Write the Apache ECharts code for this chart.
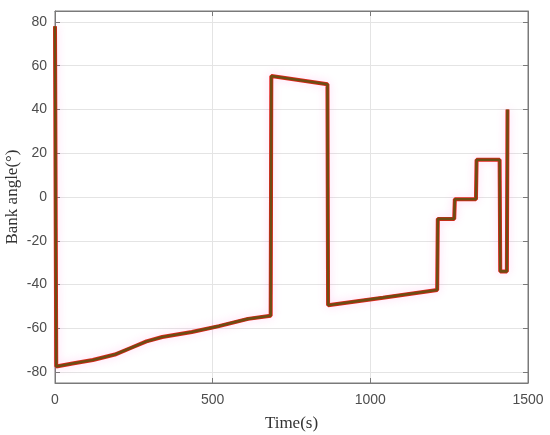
<!DOCTYPE html>
<html>
<head>
<meta charset="utf-8">
<script src="https://cdn.jsdelivr.net/npm/echarts@6/dist/echarts.min.js"></script>
<style>
  html, body { margin: 0; padding: 0; background: #fff; }
  #chart { width: 550px; height: 435px; }
</style>
</head>
<body>
<div id="chart"></div>
<script>
// time (s) and bank angle (deg)
var timeS = [0, 4, 60, 120, 190, 240, 290, 340, 434, 520, 612, 684, 686, 864, 866, 1040, 1212, 1214, 1266, 1268, 1335, 1337, 1410, 1412, 1433, 1435];
var bankDeg = [78, -77.5, -76, -74.5, -72, -69, -66, -64, -61.7, -59, -55.7, -54.3, 55.3, 51.5, -49.5, -46, -42.5, -10, -10, -1, -1, 17, 17, -34, -34, 40];
var yTicks = [-80, -60, -40, -20, 0, 20, 40, 60, 80];

var pts = timeS.map(function (t, i) { return [t, bankDeg[i]]; });

var chart = echarts.init(document.getElementById('chart'));

var labelStyle = { color: '#4d4d4d', fontSize: 14, fontFamily: 'Liberation Sans, Arial, sans-serif' };
var axisGrey = '#7a7a7a';

var option = {
    animation: false,
    grid: {
        left: 55, right: 22, top: 11, bottom: 52,
        outerBoundsMode: 'none',
        show: true, borderColor: axisGrey, borderWidth: 1
    },
    xAxis: [
        {
            type: 'value', min: 0, max: 1500, interval: 500,
            name: 'Time(s)', nameLocation: 'middle', nameGap: 32, nameMoveOverlap: false,
            nameTextStyle: { color: '#333', fontSize: 17, fontFamily: 'Liberation Serif, Times New Roman, serif' },
            axisLine: { show: true, onZero: false, lineStyle: { color: axisGrey } },
            axisTick: { show: true, inside: true, length: 5, lineStyle: { color: axisGrey } },
            axisLabel: Object.assign({ margin: 10, formatter: function (v) { return String(v); } }, labelStyle),
            splitLine: { show: true, lineStyle: { color: '#e4e4e4' } }
        },
        {
            type: 'value', min: 0, max: 1500, interval: 500, position: 'top',
            axisLine: { show: true, onZero: false, lineStyle: { color: axisGrey } },
            axisTick: { show: true, inside: true, length: 5, lineStyle: { color: axisGrey } },
            axisLabel: { show: false },
            splitLine: { show: false }
        }
    ],
    yAxis: [
        {
            type: 'value', min: -85, max: 85,
            name: 'Bank angle(°)', nameLocation: 'middle', nameGap: 34, nameRotate: 90, nameMoveOverlap: false,
            nameTextStyle: { color: '#333', fontSize: 17, fontFamily: 'Liberation Serif, Times New Roman, serif' },
            axisLine: { show: true, onZero: false, lineStyle: { color: axisGrey } },
            axisTick: { show: true, inside: true, length: 5, customValues: yTicks, lineStyle: { color: axisGrey } },
            axisLabel: Object.assign({ margin: 8, customValues: yTicks }, labelStyle),
            splitLine: { show: true, lineStyle: { color: '#e4e4e4' } }
        },
        {
            type: 'value', min: -85, max: 85, position: 'right',
            axisLine: { show: true, onZero: false, lineStyle: { color: axisGrey } },
            axisTick: { show: true, inside: true, length: 5, customValues: yTicks, lineStyle: { color: axisGrey } },
            axisLabel: { show: false, customValues: yTicks },
            splitLine: { show: false }
        }
    ],
    series: [
        {
            name: 'reference', type: 'line', data: pts, showSymbol: false,
            lineStyle: { color: '#e3241c', width: 4, shadowColor: 'rgba(255,120,220,0.3)', shadowBlur: 8 }
        },
        {
            name: 'actual', type: 'line', data: pts, showSymbol: false,
            lineStyle: { color: '#6e4c12', width: 2.6 }
        }
    ]
};

chart.setOption(option);
</script>
</body>
</html>
